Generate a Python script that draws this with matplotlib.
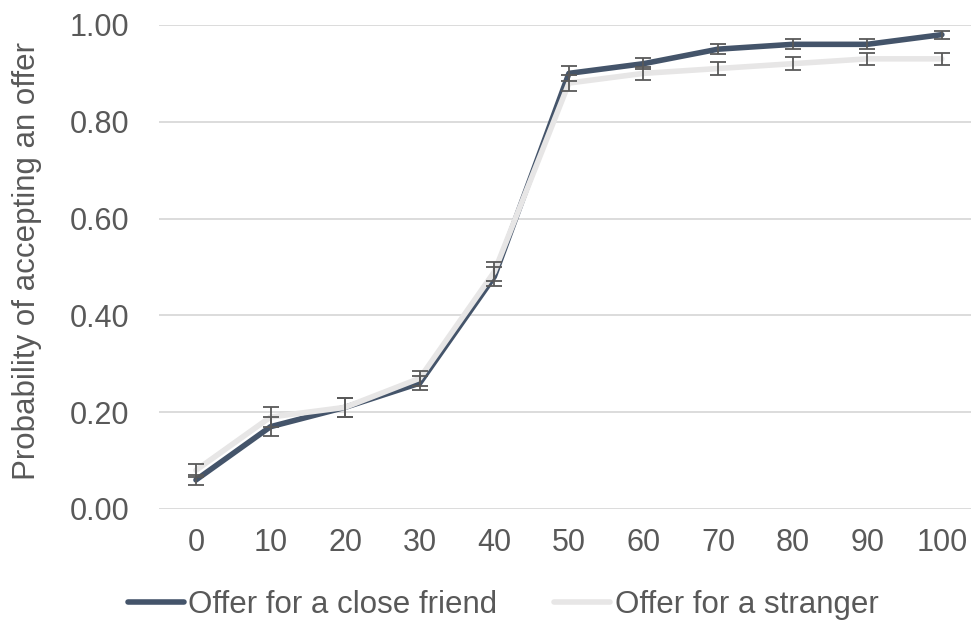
import matplotlib.pyplot as plt

offers = ['0', '10', '20', '30', '40', '50', '60', '70', '80', '90', '100']
friend = [0.06, 0.17, 0.21, 0.26, 0.48, 0.90, 0.92, 0.95, 0.96, 0.96, 0.98]
friend_err = [0.011, 0.02, 0.02, 0.015, 0.02, 0.015, 0.012, 0.01, 0.01, 0.01, 0.008]
stranger = [0.08, 0.19, 0.21, 0.27, 0.49, 0.88, 0.90, 0.91, 0.92, 0.93, 0.93]
stranger_err = [0.013, 0.02, 0.02, 0.015, 0.02, 0.017, 0.014, 0.013, 0.013, 0.013, 0.013]
yticks = [0.0, 0.2, 0.4, 0.6, 0.8, 1.0]

text_col = '#595959'
plt.rcParams['font.family'] = ['Liberation Sans', 'DejaVu Sans']

fig = plt.figure(figsize=(9.71, 6.21), dpi=100)
ax = fig.add_axes([0.1634, 0.1804, 0.845, 0.7794])

x = list(range(len(offers)))
ax.plot(x, friend, color='#44546A', lw=4, solid_capstyle='round',
        solid_joinstyle='round', zorder=2, label='Offer for a close friend')
ax.plot(x, stranger, color='#E7E6E6', lw=4, solid_capstyle='round',
        solid_joinstyle='round', zorder=3, label='Offer for a stranger')
ax.errorbar(x, friend, yerr=friend_err, fmt='none', ecolor=text_col,
            elinewidth=1.3, capsize=6, capthick=1.3, zorder=4)
ax.errorbar(x, stranger, yerr=stranger_err, fmt='none', ecolor=text_col,
            elinewidth=1.3, capsize=6, capthick=1.3, zorder=4)

ax.set_xlim(-0.5, len(offers) - 0.5)
ax.set_ylim(0, 1.0)
ax.set_xticks(x)
ax.set_xticklabels(offers)
ax.set_yticks(yticks)
ax.set_yticklabels(['%.2f' % v for v in yticks])
ax.tick_params(axis='both', length=0, labelsize=22, labelcolor=text_col)
ax.tick_params(axis='y', pad=21)
ax.tick_params(axis='x', pad=14)
ax.grid(axis='y', color='#D9D9D9', lw=1.3)
ax.set_axisbelow(True)
for s in ax.spines.values():
    s.set_visible(False)

fig.text(27 / 971, 0.58, 'Probability of accepting an offer', rotation=90,
         ha='center', va='center', fontsize=22.5, color=text_col)

leg = fig.legend(loc='center', bbox_to_anchor=(503 / 971, 1 - 605 / 621),
                 ncol=2, frameon=False, fontsize=22.5, handlelength=1.8,
                 handletextpad=0.15, columnspacing=1.8, borderaxespad=0)
for t in leg.get_texts():
    t.set_color(text_col)

fig.savefig('out.png', dpi=100)
